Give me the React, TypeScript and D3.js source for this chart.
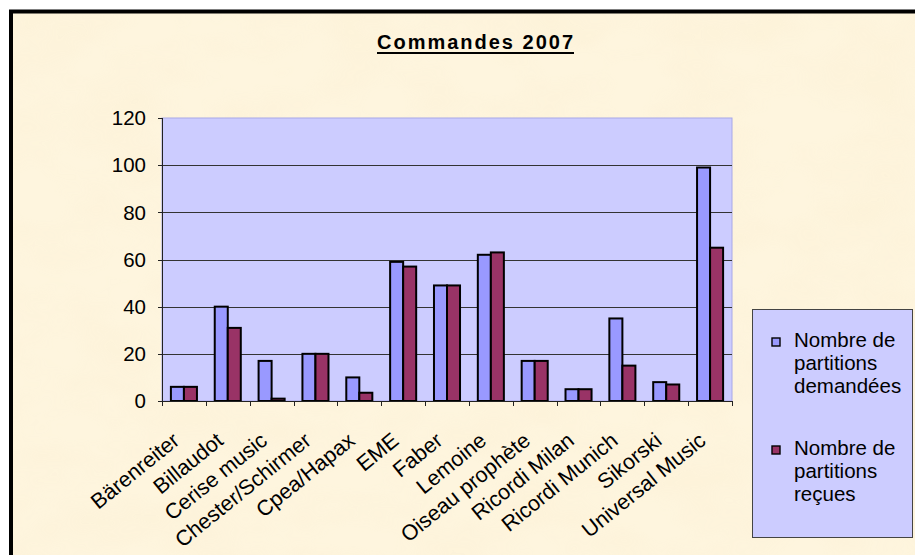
import React from "react";
import * as d3 from "d3";

const categories = [
  "Bärenreiter",
  "Billaudot",
  "Cerise music",
  "Chester/Schirmer",
  "Cpea/Hapax",
  "EME",
  "Faber",
  "Lemoine",
  "Oiseau prophète",
  "Ricordi Milan",
  "Ricordi Munich",
  "Sikorski",
  "Universal Music",
];
const demandees = [6, 40, 17, 20, 10, 59, 49, 62, 17, 5, 35, 8, 99];
const recues = [6, 31, 1, 20, 3.5, 57, 49, 63, 17, 5, 15, 7, 65];
const yTicks = [0, 20, 40, 60, 80, 100, 120];
const seriesNames = [
  ["Nombre de", "partitions", "demandées"],
  ["Nombre de", "partitions", "reçues"],
];
const title = "Commandes 2007";

const W = 915;
const H = 555;
const FONT = "'Liberation Sans', Arial, Helvetica, sans-serif";

export default function App() {
  const plot = { left: 162, right: 732, top: 118, bottom: 401 };
  const x = d3.scaleBand<string>().domain(categories).range([plot.left, plot.right]).padding(0);
  const y = d3.scaleLinear().domain([0, 120]).range([plot.bottom, plot.top]);
  const bw = x.bandwidth() * 0.297;
  const colors = ["#9999FF", "#993366"];
  const series = [demandees, recues];

  return (
    <svg
      width={W}
      height={H}
      style={{ position: "absolute", left: 0, top: 0, display: "block" }}
      fontFamily={FONT}
    >
      <defs>
        <filter id="parch" x="0" y="0" width="100%" height="100%">
          <feTurbulence type="fractalNoise" baseFrequency="0.012 0.02" numOctaves="3" seed="4" result="n" />
          <feColorMatrix
            in="n"
            type="matrix"
            values="0 0 0 0 0.97  0 0 0 0 0.87  0 0 0 0 0.66  0 0 0 -1.6 1.05"
          />
        </filter>
      </defs>
      <rect x={0} y={0} width={W} height={H} fill="#ffffff" />
      <rect x={11} y={11} width={W} height={H} fill="#FEF5DE" />
      <rect x={11} y={11} width={W} height={H} filter="url(#parch)" opacity={0.55} />
      <rect x={11} y={11.5} width={W + 20} height={H + 20} fill="none" stroke="#000" strokeWidth={4} />

      {/* title */}
      <text
        x={475}
        y={49}
        textAnchor="middle"
        fontSize={20}
        fontWeight="bold"
        textLength={196}
        lengthAdjust="spacing"
        fill="#000"
      >
        {title}
      </text>
      <line x1={377} x2={574} y1={53} y2={53} stroke="#000" strokeWidth={2} />

      {/* plot area */}
      <rect
        x={plot.left}
        y={plot.top}
        width={plot.right - plot.left}
        height={plot.bottom - plot.top}
        fill="#CCCCFF"
        stroke="#A8A8E8"
        strokeWidth={1}
      />
      {yTicks.filter((t) => t > 0 && t < 120).map((t) => (
        <line
          key={"g" + t}
          x1={plot.left}
          x2={plot.right}
          y1={Math.round(y(t)) + 0.5}
          y2={Math.round(y(t)) + 0.5}
          stroke="#333"
          strokeWidth={1}
        />
      ))}

      {/* bars */}
      {series.map((vals, si) =>
        vals.map((v, i) => {
          const cx = (x(categories[i]) as number) + x.bandwidth() / 2;
          const bx = si === 0 ? cx - bw : cx;
          return (
            <rect
              key={si + "-" + i}
              x={bx}
              y={y(v)}
              width={bw}
              height={y(0) - y(v)}
              fill={colors[si]}
              stroke="#000"
              strokeWidth={2}
            />
          );
        })
      )}

      {/* axes */}
      <line x1={plot.left + 0.5} x2={plot.left + 0.5} y1={plot.top} y2={plot.bottom} stroke="#222" />
      <line x1={plot.left} x2={plot.right} y1={plot.bottom + 0.5} y2={plot.bottom + 0.5} stroke="#222" />
      {yTicks.map((t) => (
        <g key={"yt" + t}>
          <line
            x1={plot.left - 4}
            x2={plot.left}
            y1={Math.round(y(t)) + 0.5}
            y2={Math.round(y(t)) + 0.5}
            stroke="#222"
          />
          <text x={146} y={y(t)} dy="0.35em" textAnchor="end" fontSize={20.5} fill="#000">
            {t}
          </text>
        </g>
      ))}
      {categories.concat([""]).map((c, i) => {
        const xx = plot.left + i * x.step();
        return (
          <line
            key={"xt" + i}
            x1={Math.round(xx) + 0.5}
            x2={Math.round(xx) + 0.5}
            y1={plot.bottom}
            y2={plot.bottom + 5}
            stroke="#222"
          />
        );
      })}
      {categories.map((c) => {
        const cx = (x(c) as number) + x.bandwidth() / 2;
        return (
          <text
            key={"xl" + c}
            transform={`translate(${cx - 3},${443}) rotate(-39)`}
            textAnchor="end"
            fontSize={21.5}
            fill="#000"
          >
            {c}
          </text>
        );
      })}

      {/* legend */}
      <rect x={752.5} y={309.5} width={160} height={228} fill="#CCCCFF" stroke="#444" strokeWidth={1} />
      {seriesNames.map((lines, si) => {
        const base = 347 + si * 108;
        return (
          <g key={"lg" + si}>
            <rect x={772} y={base - 9} width={8} height={8} fill={colors[si]} stroke="#000" strokeWidth={1.4} />
            {lines.map((ln, li) => (
              <text key={li} x={794} y={base + li * 23} fontSize={20.5} fill="#000">
                {ln}
              </text>
            ))}
          </g>
        );
      })}
    </svg>
  );
}
